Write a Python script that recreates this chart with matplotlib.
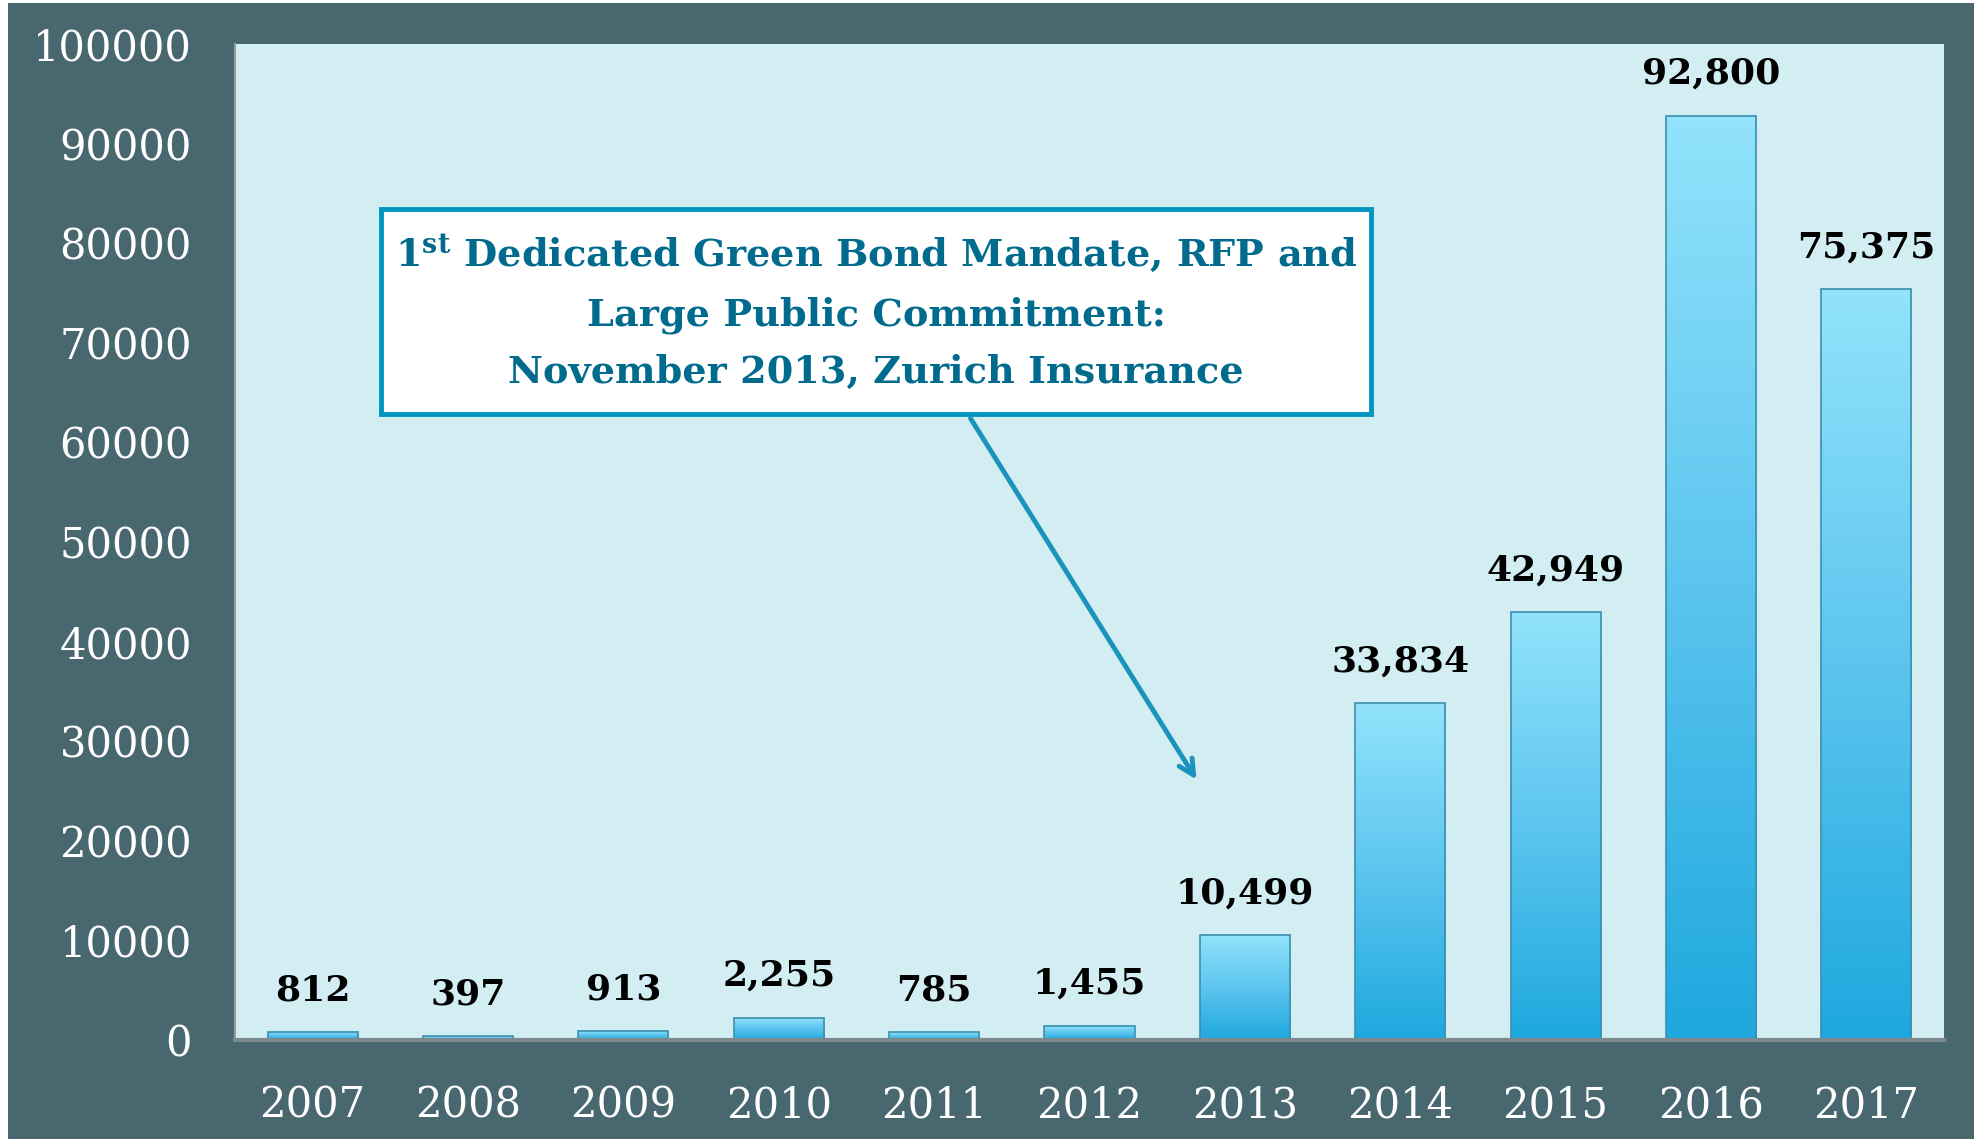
import numpy as np
import matplotlib.pyplot as plt
from matplotlib.patches import Rectangle
from matplotlib.colors import LinearSegmentedColormap

# Data
years = ["2007", "2008", "2009", "2010", "2011", "2012",
         "2013", "2014", "2015", "2016", "2017"]
values = [812, 397, 913, 2255, 785, 1455, 10499, 33834, 42949, 92800, 75375]
y_ticks = [0, 10000, 20000, 30000, 40000, 50000,
           60000, 70000, 80000, 90000, 100000]
note_lines = [r"1$^{\mathbf{st}}$ Dedicated Green Bond Mandate, RFP and",
              "Large Public Commitment:",
              "November 2013, Zurich Insurance"]

plt.rcParams['font.family'] = 'DejaVu Serif'
plt.rcParams['mathtext.fontset'] = 'dejavuserif'

dark_bg = "#48676f"
plot_bg = "#d2eef2"
note_col = "#006b8c"
arrow_col = "#1a93bd"

fig = plt.figure(figsize=(19.78, 11.39), dpi=100, facecolor="white")
# dark slide panel
fig.patches.append(Rectangle((8 / 1978, 0), 1966 / 1978, 1136 / 1139,
                             transform=fig.transFigure, facecolor=dark_bg,
                             edgecolor="none", zorder=-5))

ax = fig.add_axes([235 / 1978, 99 / 1139, 1709 / 1978, 996 / 1139])
ax.set_zorder(2)
ax.set_facecolor(plot_bg)

x = np.arange(len(years))
bars = ax.bar(x, values, width=0.58, color="none", edgecolor="#3d8fae",
              linewidth=1.2, zorder=3)

# vertical gradient fill for each bar
grad = LinearSegmentedColormap.from_list("bar", ["#1ea8de", "#5cc5ef", "#92e3fb"])
g = np.linspace(0, 1, 256).reshape(-1, 1)
for b in bars:
    x0, w, h = b.get_x(), b.get_width(), b.get_height()
    ax.imshow(g, cmap=grad, origin="lower", aspect="auto",
              extent=(x0, x0 + w, 0, h), zorder=2, interpolation="bicubic")
    ax.annotate(f"{int(h):,}", (x0 + w / 2, h), xytext=(0, 30),
                textcoords="offset points", ha="center", va="center",
                fontsize=26, fontweight="bold", color="black", zorder=5)

ax.set_xlim(-0.5, len(years) - 0.5)
ax.set_ylim(0, 100000)
ax.set_xticks(x)
ax.set_xticklabels(years)
ax.set_yticks(y_ticks)
ax.set_yticklabels([str(t) for t in y_ticks])
ax.tick_params(axis="x", length=0, pad=32, labelsize=30, labelcolor="white")
ax.tick_params(axis="y", length=0, pad=31, labelsize=30, labelcolor="white")

for s in ["top", "right"]:
    ax.spines[s].set_visible(False)
ax.spines["left"].set_color("#9a9a9a")
ax.spines["left"].set_linewidth(1.5)
ax.spines["bottom"].set_color("#7c8a8d")
ax.spines["bottom"].set_linewidth(3)
ax.spines["bottom"].set_zorder(4)

# callout box and arrow
box = Rectangle((0.0854, 0.6285), 0.5796, 0.2055, transform=ax.transAxes,
                facecolor="white", edgecolor="#0096c2", linewidth=3.5, zorder=6)
ax.add_patch(box)
ax.text(0.3752, 0.7312, "\n".join(note_lines), transform=ax.transAxes,
        ha="center", va="center", fontsize=27.5, fontweight="bold",
        color=note_col, linespacing=1.7, zorder=7)
ax.annotate("", xy=(0.5635, 0.259), xytext=(0.4295, 0.6265),
            xycoords="axes fraction", textcoords="axes fraction",
            arrowprops=dict(arrowstyle="->,head_length=1.1,head_width=0.55",
                            color=arrow_col, lw=3.5), zorder=6)

plt.savefig("out.png", dpi=100, facecolor=fig.get_facecolor())
